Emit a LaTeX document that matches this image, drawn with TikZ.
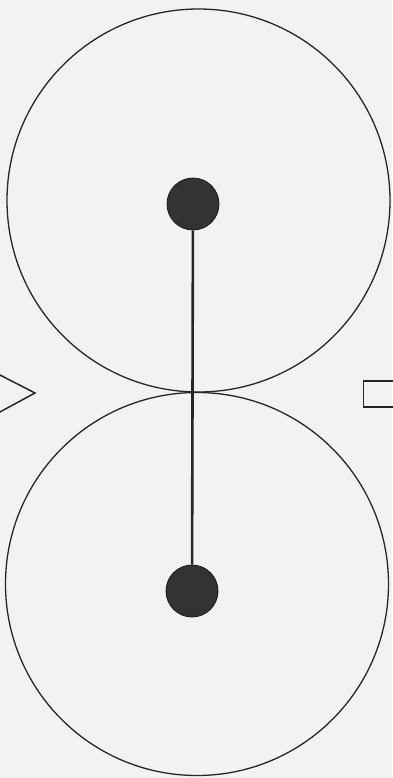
\documentclass[tikz,border=0pt]{standalone}
\begin{document}
\begin{tikzpicture}[x=1pt,y=-1pt,
  ring/.style={circle,draw=black!85,line width=1.3pt,minimum size=383pt,inner sep=0pt},
  dot/.style={circle,fill=black!80,draw=black!90,line width=0.8pt,minimum size=52pt,inner sep=0pt},
  rod/.style={draw=black!85,line width=2.6pt},
  sidemark/.style={draw=black!85,line width=1.5pt}]
\fill[black!5] (0,0) rectangle (392,778);
\useasboundingbox (0,0) rectangle (392,778);
\node[ring] (c1) at (198.5,200.5) {};
\node[ring] (c2) at (197,584) {};
\node[dot] (d1) at (193,204) {};
\node[dot] (d2) at (192,591) {};
\draw[rod] (d1) -- (d2);
\coordinate (t1) at (-2,374);
\coordinate (t2) at (35,393);
\coordinate (t3) at (-2,413);
\draw[sidemark,line join=miter] (t1) -- (t2) -- (t3);
\coordinate (r1) at (395,381);
\coordinate (r2) at (363.5,381);
\coordinate (r3) at (363.5,407);
\coordinate (r4) at (395,407);
\draw[sidemark] (r1) -- (r2) -- (r3) -- (r4);
\end{tikzpicture}
\end{document}
